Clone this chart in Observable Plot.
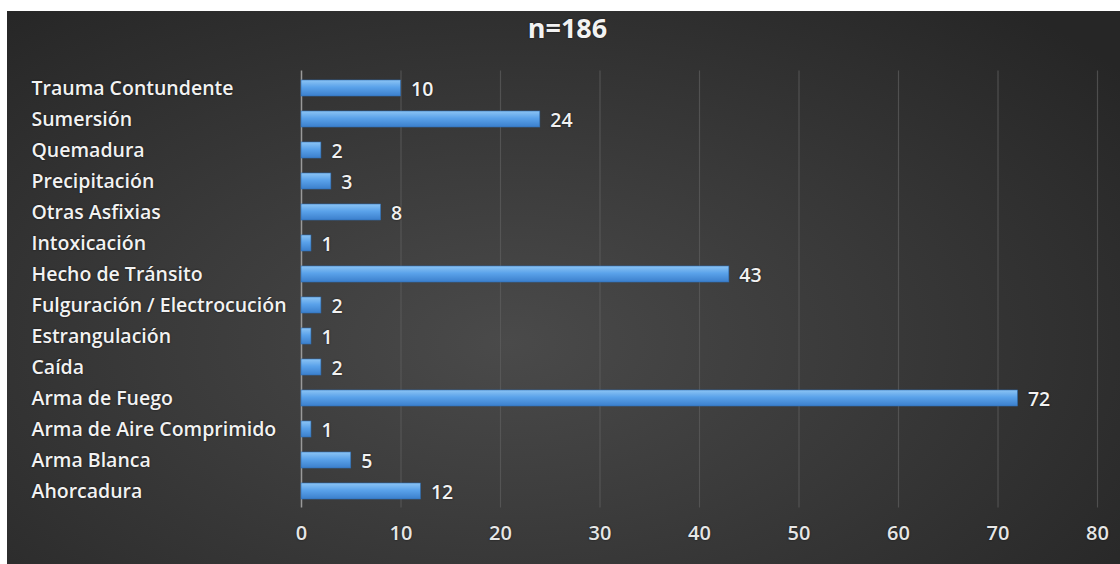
<!DOCTYPE html>
<html>
<head>
<meta charset="utf-8">
<script src="https://cdn.jsdelivr.net/npm/d3@7"></script>
<script src="https://cdn.jsdelivr.net/npm/@observablehq/plot@0.6"></script>
<style>
  html, body { margin: 0; padding: 0; background: #fff; width: 1120px; height: 564px; overflow: hidden; }
  #panel {
    position: absolute; left: 7px; top: 11px; width: 1113px; height: 553px;
    background: radial-gradient(ellipse 70% 80% at 45% 60%, #4a4a4a 0%, #3a3a3a 45%, #262626 100%);
    font-family: "Open Sans", sans-serif;
  }
  #title {
    height: 39px; line-height: 34px; text-align: center; color: #f2f2f2;
    font-size: 27px; font-weight: 700; text-shadow: 0 0 2px rgba(0,0,0,0.6);
    padding-left: 8px;
  }
  #chart svg { display: block; }
  #chart text { text-shadow: 0 0 2px rgba(0,0,0,0.7); }
</style>
</head>
<body>
<div id="panel">
  <div id="title">n=186</div>
  <div id="chart"></div>
</div>
<script>
const categories = [
  "Trauma Contundente", "Sumersión", "Quemadura", "Precipitación", "Otras Asfixias",
  "Intoxicación", "Hecho de Tránsito", "Fulguración / Electrocución", "Estrangulación",
  "Caída", "Arma de Fuego", "Arma de Aire Comprimido", "Arma Blanca", "Ahorcadura"
];
const values = [10, 24, 2, 3, 8, 1, 43, 2, 1, 2, 72, 1, 5, 12];
const xTicks = [0, 10, 20, 30, 40, 50, 60, 70, 80];

const data = categories.map((c, i) => ({category: c, value: values[i]}));

const chart = Plot.plot({
  width: 1113,
  height: 514,
  marginLeft: 294,
  marginRight: 23,
  marginTop: 20.4,
  marginBottom: 56.4,
  style: {background: "transparent", color: "#f0f0f0", fontFamily: "'Open Sans', sans-serif", fontSize: "19px"},
  x: {domain: [0, 80], ticks: xTicks, label: null},
  y: {domain: categories, paddingInner: 0.5, paddingOuter: 0.25, label: null},
  marks: [
    Plot.ruleX(xTicks.filter(d => d > 0), {stroke: "#5e5e5e", strokeWidth: 1.2, strokeOpacity: 0.7}),
    Plot.ruleX([0], {stroke: "#9a9a9a", strokeWidth: 1.5}),
    Plot.barX(data, {x: "value", y: "category", fill: "url(#barGrad)", stroke: "#2f6fb5", strokeWidth: 0.6}),
    Plot.text(data, {x: "value", y: "category", text: d => String(d.value), textAnchor: "start", dx: 10, dy: 1, fill: "#f2f2f2", fontSize: 19.5, fontWeight: 600}),
    Plot.axisX({ticks: xTicks, tickSize: 0, tickPadding: 18, fontSize: 20, fontWeight: 600, fill: "#e6e6e6", label: null}),
    Plot.axisY({tickSize: 0, textAnchor: "start", dx: -261, fontSize: 19.5, fontWeight: 600, fill: "#f2f2f2", label: null})
  ]
});

const svg = d3.select(chart);
const defs = svg.insert("defs", ":first-child");
const g = defs.append("linearGradient").attr("id", "barGrad").attr("x1", 0).attr("y1", 0).attr("x2", 0).attr("y2", 1);
g.append("stop").attr("offset", "0%").attr("stop-color", "#8cc4f4");
g.append("stop").attr("offset", "45%").attr("stop-color", "#5aa2ea");
g.append("stop").attr("offset", "100%").attr("stop-color", "#3b7fcc");

document.getElementById("chart").appendChild(chart);
</script>
</body>
</html>
